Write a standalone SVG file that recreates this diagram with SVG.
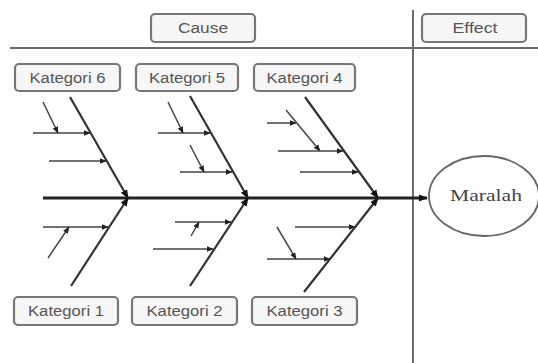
<svg xmlns="http://www.w3.org/2000/svg" width="538" height="363" viewBox="0 0 538 363">
<defs>
<marker id="ah" markerUnits="userSpaceOnUse" markerWidth="7" markerHeight="7" viewBox="0 0 10 10" refX="9" refY="5" orient="auto">
<path d="M0,1 L10,5 L0,9 Z" fill="#222"/>
</marker>
<marker id="big" markerUnits="userSpaceOnUse" markerWidth="9" markerHeight="9" viewBox="0 0 10 10" refX="9" refY="5" orient="auto">
<path d="M0,1 L10,5 L0,9 Z" fill="#111"/>
</marker>
</defs>
<style>
.box{fill:#f6f6f6;stroke:#777;stroke-width:2.2}
.lbl{font-family:"Liberation Sans",Arial,sans-serif;font-size:14px;fill:#555;text-anchor:middle}
.frame{stroke:#6a6a6a;stroke-width:2;fill:none}
.spine{stroke:#222;stroke-width:3;fill:none}
.bone{stroke:#333;stroke-width:2.2;fill:none}
.sub{stroke:#444;stroke-width:1.5;fill:none}
</style>
<rect width="538" height="363" fill="#fff"/>
<g id="frame">
<line class="frame" x1="10" y1="48" x2="538" y2="48"/>
<line class="frame" x1="413" y1="10" x2="413" y2="363"/>
</g>
<g id="cause"><rect class="box" x="151" y="14" width="104" height="28" rx="4"/><text class="lbl" x="203" y="33" textLength="50" lengthAdjust="spacingAndGlyphs">Cause</text></g>
<g id="effect"><rect class="box" x="422" y="14" width="104" height="28" rx="4"/><text class="lbl" x="475" y="33" textLength="45" lengthAdjust="spacingAndGlyphs">Effect</text></g>
<g id="k6"><rect class="box" x="15" y="64" width="105" height="27" rx="4"/><text class="lbl" x="67.5" y="82.5" textLength="76" lengthAdjust="spacingAndGlyphs">Kategori 6</text></g>
<g id="k5"><rect class="box" x="136" y="64" width="102" height="27" rx="4"/><text class="lbl" x="187" y="82.5" textLength="76" lengthAdjust="spacingAndGlyphs">Kategori 5</text></g>
<g id="k4"><rect class="box" x="254" y="64" width="101" height="27" rx="4"/><text class="lbl" x="304.5" y="82.5" textLength="76" lengthAdjust="spacingAndGlyphs">Kategori 4</text></g>
<g id="k1"><rect class="box" x="14" y="297" width="104" height="28" rx="4"/><text class="lbl" x="66" y="316" textLength="76" lengthAdjust="spacingAndGlyphs">Kategori 1</text></g>
<g id="k2"><rect class="box" x="132" y="297" width="105" height="28" rx="4"/><text class="lbl" x="184.5" y="316" textLength="76" lengthAdjust="spacingAndGlyphs">Kategori 2</text></g>
<g id="k3"><rect class="box" x="252" y="297" width="105" height="28" rx="4"/><text class="lbl" x="304.5" y="316" textLength="76" lengthAdjust="spacingAndGlyphs">Kategori 3</text></g>
<g id="masalah">
<ellipse cx="484" cy="196" rx="55" ry="40" fill="#fff" stroke="#666" stroke-width="1.8"/>
<text x="486" y="201" font-family="'Liberation Serif','Times New Roman',serif" font-size="16" fill="#444" text-anchor="middle" textLength="72" lengthAdjust="spacingAndGlyphs">Maralah</text>
</g>
<g id="connectors">
<line class="spine" x1="43" y1="198" x2="427" y2="198" marker-end="url(#big)"/>
<line class="bone" x1="70" y1="97" x2="128" y2="198" marker-end="url(#big)"/>
<line class="bone" x1="71" y1="286" x2="128" y2="198" marker-end="url(#big)"/>
<line class="bone" x1="190" y1="96" x2="248" y2="198" marker-end="url(#big)"/>
<line class="bone" x1="190" y1="286" x2="248" y2="198" marker-end="url(#big)"/>
<line class="bone" x1="305" y1="97" x2="378" y2="198" marker-end="url(#big)"/>
<line class="bone" x1="304" y1="292" x2="378" y2="198" marker-end="url(#big)"/>
<line class="sub" x1="33" y1="133" x2="90" y2="133" marker-end="url(#ah)"/>
<line class="sub" x1="43" y1="102" x2="58" y2="133" marker-end="url(#ah)"/>
<line class="sub" x1="49" y1="161" x2="106" y2="161" marker-end="url(#ah)"/>
<line class="sub" x1="43" y1="227" x2="108" y2="227" marker-end="url(#ah)"/>
<line class="sub" x1="48" y1="258" x2="69" y2="227" marker-end="url(#ah)"/>
<line class="sub" x1="158" y1="133" x2="210" y2="133" marker-end="url(#ah)"/>
<line class="sub" x1="168" y1="102" x2="183" y2="133" marker-end="url(#ah)"/>
<line class="sub" x1="180" y1="172" x2="232" y2="172" marker-end="url(#ah)"/>
<line class="sub" x1="190" y1="145" x2="204" y2="172" marker-end="url(#ah)"/>
<line class="sub" x1="175" y1="222" x2="231" y2="222" marker-end="url(#ah)"/>
<line class="sub" x1="191" y1="236" x2="199" y2="222" marker-end="url(#ah)"/>
<line class="sub" x1="153" y1="249" x2="213" y2="249" marker-end="url(#ah)"/>
<line class="sub" x1="267" y1="123" x2="296" y2="123" marker-end="url(#ah)"/>
<line class="sub" x1="286" y1="110" x2="320" y2="151" marker-end="url(#ah)"/>
<line class="sub" x1="278" y1="151" x2="343" y2="151" marker-end="url(#ah)"/>
<line class="sub" x1="300" y1="172" x2="358" y2="172" marker-end="url(#ah)"/>
<line class="sub" x1="295" y1="227" x2="355" y2="227" marker-end="url(#ah)"/>
<line class="sub" x1="267" y1="259" x2="330" y2="259" marker-end="url(#ah)"/>
<line class="sub" x1="277" y1="227" x2="296" y2="259" marker-end="url(#ah)"/>
</g>
</svg>
